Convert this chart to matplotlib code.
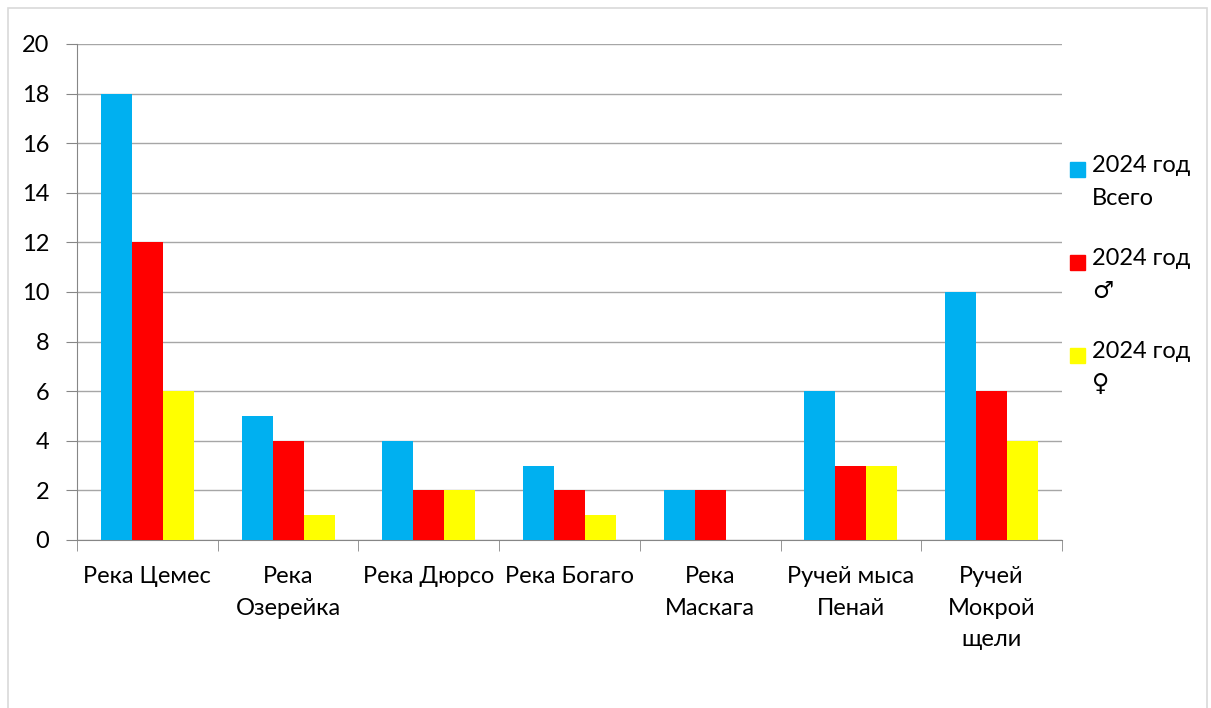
import numpy as np
import matplotlib as mpl
mpl.use('Agg')
import matplotlib.pyplot as plt
from matplotlib.patches import Rectangle

plt.rcParams['font.family'] = ['Lato', 'DejaVu Sans']

# data
rivers = ['Река Цемес', 'Река\nОзерейка', 'Река Дюрсо', 'Река Богаго',
          'Река\nМаскага', 'Ручей мыса\nПенай', 'Ручей\nМокрой\nщели']
total = [18, 5, 4, 3, 2, 6, 10]
males = [12, 4, 2, 2, 2, 3, 6]
females = [6, 1, 2, 1, 0, 3, 4]
series_names = ['2024 год\nВсего', '2024 год\n♂', '2024 год\n♀']
colors = ['#00B0F0', '#FF0000', '#FFFF00']

W, H = 1211, 708
fs = 17
fig = plt.figure(figsize=(W/100, H/100), dpi=100)
fig.patches.append(Rectangle((8/W, -0.01), 1199/W, 1 - 8/H + 0.01,
                             transform=fig.transFigure, fill=False,
                             edgecolor='#d9d9d9', lw=1.2))
ax = fig.add_axes([77/W, 1 - 540/H, (1062-77)/W, (540-44)/H])

x = np.arange(len(rivers))
w = 0.22
for i, (vals, col) in enumerate(zip([total, males, females], colors)):
    ax.bar(x + (i - 1) * w, vals, w, color=col, zorder=3)

ax.set_xlim(-0.5, len(rivers) - 0.5)
ax.set_ylim(0, 20)
ax.set_yticks(range(0, 21, 2))
ax.grid(axis='y', color='#a6a6a6', lw=1, zorder=0)
for s in ['top', 'right']:
    ax.spines[s].set_visible(False)
for s in ['left', 'bottom']:
    ax.spines[s].set_color('#868686')
ax.set_xticks(x)
ax.set_xticklabels(rivers, fontsize=fs, va='top')
for lab in ax.get_xticklabels():
    lab.set_linespacing(1.6)
ax.tick_params(axis='x', length=0, pad=19)
ax.set_xticks(np.arange(-0.5, len(rivers)), minor=True)
ax.tick_params(axis='x', which='minor', length=8, color='#868686')
ax.tick_params(axis='y', length=8, color='#868686', labelsize=fs, pad=12)

# legend drawn by hand: square next to the first line of each entry
for i, (name, col) in enumerate(zip(series_names, colors)):
    yc = 169 + i * 93
    fig.patches.append(Rectangle((1070/W, 1 - (yc + 7.5)/H), 15/W, 15/H,
                                 transform=fig.transFigure, color=col))
    fig.text(1092/W, 1 - (yc - 14)/H, name, fontsize=fs, va='top',
             ha='left', linespacing=1.7)

plt.savefig('out.png')
